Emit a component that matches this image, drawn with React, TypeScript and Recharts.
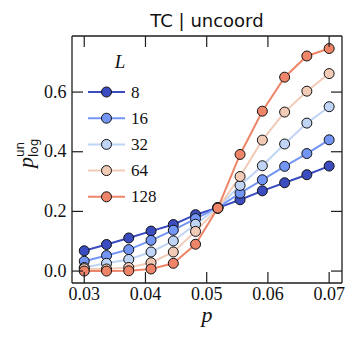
import React from 'react';
import { LineChart, Line, XAxis, YAxis, Legend } from 'recharts';

const pValues = [0.03, 0.03364, 0.03727, 0.04091, 0.04455, 0.04818, 0.05182, 0.05545, 0.05909, 0.06273, 0.06636, 0.07];
const sizes = [8, 16, 32, 64, 128];
const pLog8 = [0.068, 0.089, 0.111, 0.134, 0.156, 0.189, 0.212, 0.239, 0.269, 0.296, 0.323, 0.352];
const pLog16 = [0.033, 0.052, 0.072, 0.103, 0.137, 0.176, 0.213, 0.261, 0.306, 0.351, 0.394, 0.44];
const pLog32 = [0.012, 0.026, 0.039, 0.064, 0.101, 0.157, 0.213, 0.287, 0.353, 0.426, 0.496, 0.551];
const pLog64 = [0.008, 0.007, 0.012, 0.028, 0.064, 0.133, 0.21, 0.317, 0.439, 0.533, 0.603, 0.662];
const pLog128 = [0.0, 0.0, 0.001, 0.007, 0.026, 0.09, 0.211, 0.391, 0.536, 0.65, 0.721, 0.746];
const xTicks = [0.03, 0.04, 0.05, 0.06, 0.07];
const yTicks = [0, 0.2, 0.4, 0.6];
const colors = ['#3b4cc0', '#7396f5', '#c0d4f5', '#f2cbb7', '#ee8468'];
const series = [pLog8, pLog16, pLog32, pLog64, pLog128];

const data = pValues.map((p, i) => {
  const row: Record<string, number> = { p };
  sizes.forEach((L, k) => {
    row['L' + L] = series[k][i];
  });
  return row;
});

const AX = '#1e1e1e';
const TICK_LEN = 11;
const SERIF = '"Liberation Serif", "DejaVu Serif", serif';
const SANS = '"DejaVu Sans", sans-serif';

const BottomTick = (props: any) => {
  const { x, y, payload } = props;
  return (
    <g>
      <line x1={x} x2={x} y1={y} y2={y - TICK_LEN} stroke={AX} strokeWidth={1.2} />
      <text x={x} y={y + 16.5} textAnchor="middle" fontFamily={SERIF} fontSize={18} fill="#111">
        {Number(payload.value).toFixed(2)}
      </text>
    </g>
  );
};
const TopTick = (props: any) => {
  const { x, y } = props;
  return <line x1={x} x2={x} y1={y} y2={y + TICK_LEN} stroke={AX} strokeWidth={1.2} />;
};
const LeftTick = (props: any) => {
  const { x, y, payload } = props;
  return (
    <g>
      <line x1={x} x2={x + TICK_LEN} y1={y} y2={y} stroke={AX} strokeWidth={1.2} />
      <text x={x - 5.5} y={y + 5.5} textAnchor="end" fontFamily={SERIF} fontSize={18} fill="#111">
        {Number(payload.value).toFixed(1)}
      </text>
    </g>
  );
};
const RightTick = (props: any) => {
  const { x, y } = props;
  return <line x1={x} x2={x - TICK_LEN} y1={y} y2={y} stroke={AX} strokeWidth={1.2} />;
};

const YLabel = (props: any) => {
  const vb = props.viewBox || {};
  const cy = vb.y + vb.height / 2 - 4;
  const cx = vb.x + vb.width - 39;
  return (
    <g transform={`translate(${cx},${cy}) rotate(-90)`}>
      <text x={-12.5} y={0} fontFamily={SERIF} fontStyle="italic" fontSize={22} fill="#111">p</text>
      <text x={-1.5} y={5} fontFamily={SANS} fontSize={12} fill="#111">log</text>
      <text x={-1.5} y={-9} fontFamily={SANS} fontSize={12} fill="#111">un</text>
    </g>
  );
};

const XLabel = (props: any) => {
  const vb = props.viewBox || {};
  return (
    <text x={vb.x + vb.width / 2} y={vb.y + 39} textAnchor="middle" fontFamily={SERIF} fontStyle="italic" fontSize={22} fill="#111">
      p
    </text>
  );
};

const TitleLabel = (props: any) => {
  const vb = props.viewBox || {};
  return (
    <text x={vb.x + vb.width / 2} y={vb.y + vb.height - 9} textAnchor="middle" fontFamily={SANS} fontSize={18} fill="#111">
      TC | uncoord
    </text>
  );
};

const LegendContent = () => {
  const x0 = 88;
  const y0 = 92;
  const step = 26.2;
  return (
    <svg width={357} height={340} style={{ position: 'absolute', left: 0, top: 0 }}>
      <text x={120} y={67.5} textAnchor="middle" fontFamily={SERIF} fontStyle="italic" fontSize={19} fill="#111">L</text>
      {sizes.map((L, k) => {
        const yy = y0 + k * step;
        return (
          <g key={L}>
            <line x1={x0} x2={x0 + 37} y1={yy} y2={yy} stroke={colors[k]} strokeWidth={2} />
            <circle cx={x0 + 18.5} cy={yy} r={5} fill={colors[k]} stroke="#111" strokeWidth={1} />
            <text x={x0 + 43} y={yy + 5.5} fontFamily={SERIF} fontSize={17} fill="#111">{L}</text>
          </g>
        );
      })}
    </svg>
  );
};

export default function App() {
  return (
    <div style={{ position: 'absolute', left: 0, top: 0, width: 357, height: 340, background: '#fff' }}>
      <LineChart width={357} height={340} data={data} margin={{ top: 26, right: 5, bottom: 27, left: 32 }}>
        <XAxis
          xAxisId="bottom"
          dataKey="p"
          type="number"
          domain={[0.028, 0.0721]}
          allowDataOverflow
          ticks={xTicks}
          height={30}
          tickSize={0}
          tickMargin={0}
          tickLine={false}
          axisLine={{ stroke: AX, strokeWidth: 1.3 }}
          tick={<BottomTick />}
          interval={0}
          label={<XLabel />}
        />
        <XAxis
          xAxisId="top"
          orientation="top"
          dataKey="p"
          type="number"
          domain={[0.028, 0.0721]}
          allowDataOverflow
          ticks={xTicks}
          height={10}
          tickSize={0}
          tickMargin={0}
          tickLine={false}
          axisLine={{ stroke: AX, strokeWidth: 1.3 }}
          tick={<TopTick />}
          interval={0}
          label={<TitleLabel />}
        />
        <YAxis
          yAxisId="left"
          type="number"
          domain={[-0.04, 0.788]}
          allowDataOverflow
          ticks={yTicks}
          width={40}
          tickSize={0}
          tickMargin={0}
          tickLine={false}
          axisLine={{ stroke: AX, strokeWidth: 1.3 }}
          tick={<LeftTick />}
          interval={0}
          label={<YLabel />}
        />
        <YAxis
          yAxisId="right"
          orientation="right"
          type="number"
          domain={[-0.04, 0.788]}
          allowDataOverflow
          ticks={yTicks}
          width={10}
          tickSize={0}
          tickMargin={0}
          tickLine={false}
          axisLine={{ stroke: AX, strokeWidth: 1.3 }}
          tick={<RightTick />}
          interval={0}
        />
        {sizes.map((L, k) => (
          <Line
            key={L}
            xAxisId="bottom"
            yAxisId="left"
            dataKey={'L' + L}
            stroke={colors[k]}
            strokeWidth={2}
            dot={{ r: 5, fill: colors[k], stroke: '#111', strokeWidth: 1 }}
            activeDot={false}
            isAnimationActive={false}
          />
        ))}
        <Legend
          layout="vertical"
          align="center"
          verticalAlign="middle"
          content={<LegendContent />}
          wrapperStyle={{ position: 'absolute', left: 0, top: 0, width: 357, height: 340, pointerEvents: 'none' }}
        />
      </LineChart>
    </div>
  );
}
